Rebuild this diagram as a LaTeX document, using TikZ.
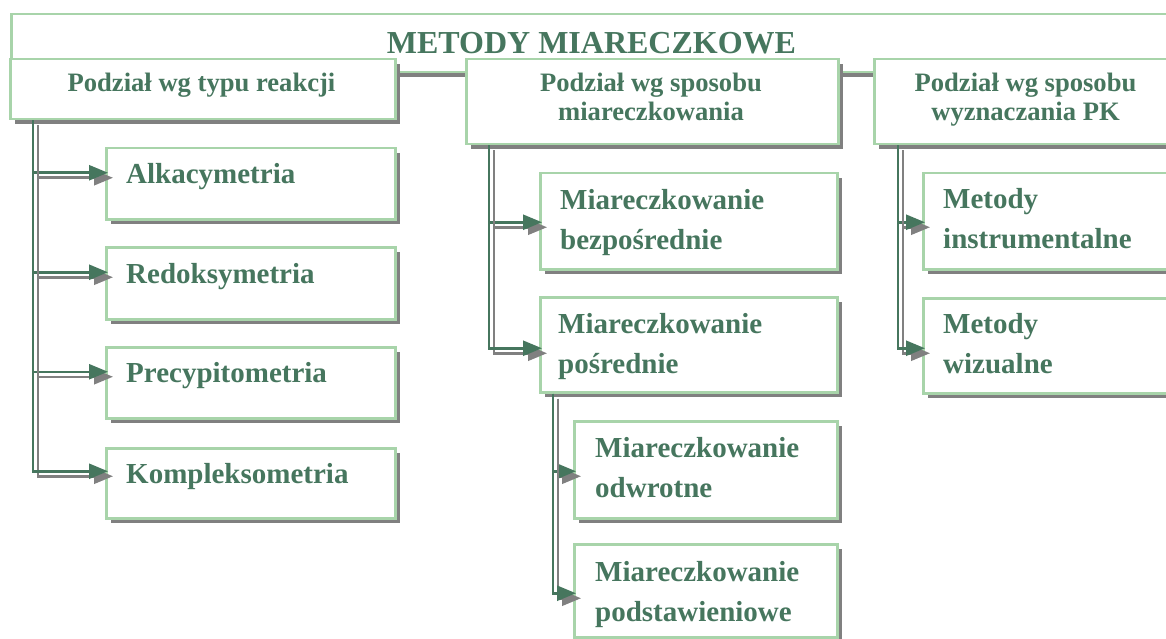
\documentclass[tikz,border=0pt]{standalone}
\usepackage{fontspec}
\setmainfont{Liberation Serif}
\usetikzlibrary{shadows,arrows.meta}
\definecolor{txtgreen}{RGB}{70,118,94}
\definecolor{bordgreen}{RGB}{168,212,170}
\definecolor{shgray}{RGB}{128,128,128}
\tikzset{
  box/.style={draw=bordgreen, line width=2.5pt, fill=white, rectangle, inner sep=0pt,
    anchor=north west,
    drop shadow={shadow xshift=5pt, shadow yshift=-5pt, fill=shgray, opacity=1}},
  titletext/.style={text=txtgreen, font=\fontsize{32}{34}\selectfont\bfseries, inner sep=0pt, anchor=base},
  headtext/.style={text=txtgreen, font=\fontsize{26.6}{28.5}\selectfont\bfseries, inner sep=0pt, anchor=base},
  childtext/.style={text=txtgreen, font=\fontsize{29}{40}\selectfont\bfseries, inner sep=0pt, anchor=base west},
  conn/.style={draw=txtgreen, line width=2.5pt, -{Triangle[length=19pt,width=15pt]}, shorten >=-3pt},
  connshadow/.style={draw=shgray, line width=2.5pt, -{Triangle[length=19pt,width=15pt]}, shorten >=-3pt},
}
\newcommand{\elbowconn}[4]{%
  \draw[connshadow] ([xshift=#2+5pt,yshift=-5pt]#1.south west) |- ([xshift=5pt,yshift=#4-5pt]#3.west);
  \draw[conn] ([xshift=#2]#1.south west) |- ([yshift=#4]#3.west);
}
\begin{document}
\begin{tikzpicture}[x=1pt,y=-1pt]
\useasboundingbox (0,0) rectangle (1166,639);
\clip (0,0) rectangle (1166,639);

% top box
\node[box, minimum width=1165pt, minimum height=58pt] (top) at (10,13) {};
\node[titletext] (title) at (591.5,54) {METODY MIARECZKOWE};

% header boxes
\node[box, minimum width=385pt, minimum height=60pt] (h1) at (9,58) {};
\node[box, minimum width=372pt, minimum height=85pt] (h2) at (465,58) {};
\node[box, minimum width=305pt, minimum height=85pt] (h3) at (873,58) {};
\node[headtext] (h1t) at (201.5,92) {Podział wg typu reakcji};
\node[headtext] (h2t) at (651,92) {\begin{tabular}[t]{@{}c@{}}Podział wg sposobu\\miareczkowania\end{tabular}};
\node[headtext] (h3t) at (1025.5,92) {\begin{tabular}[t]{@{}c@{}}Podział wg sposobu\\wyznaczania PK\end{tabular}};

% column 1 children
\node[box, minimum width=289pt, minimum height=71pt] (c1a) at (105,147) {};
\node[box, minimum width=289pt, minimum height=72pt] (c1b) at (105,246) {};
\node[box, minimum width=289pt, minimum height=71pt] (c1c) at (105,346) {};
\node[box, minimum width=289pt, minimum height=70pt] (c1d) at (105,447) {};
\node[childtext] (c1at) at (126,183) {Alkacymetria};
\node[childtext] (c1bt) at (126,283) {Redoksymetria};
\node[childtext] (c1ct) at (126,382) {Precypitometria};
\node[childtext] (c1dt) at (126,483) {Kompleksometria};

% column 2 children
\node[box, minimum width=297pt, minimum height=96pt] (c2a) at (539,172) {};
\node[box, minimum width=297pt, minimum height=95pt] (c2b) at (539,296) {};
\node[box, minimum width=263pt, minimum height=97pt] (c2c) at (573,420) {};
\node[box, minimum width=263pt, minimum height=93pt] (c2d) at (573,543) {};
\node[childtext] (c2at) at (560,209) {\begin{tabular}[t]{@{}l@{}}Miareczkowanie\\bezpośrednie\end{tabular}};
\node[childtext] (c2bt) at (558,333) {\begin{tabular}[t]{@{}l@{}}Miareczkowanie\\pośrednie\end{tabular}};
\node[childtext] (c2ct) at (595,457) {\begin{tabular}[t]{@{}l@{}}Miareczkowanie\\odwrotne\end{tabular}};
\node[childtext] (c2dt) at (595,581) {\begin{tabular}[t]{@{}l@{}}Miareczkowanie\\podstawieniowe\end{tabular}};

% column 3 children
\node[box, minimum width=256pt, minimum height=96pt] (c3a) at (922,172) {};
\node[box, minimum width=256pt, minimum height=95pt] (c3b) at (922,297) {};
\node[childtext] (c3at) at (943,208) {\begin{tabular}[t]{@{}l@{}}Metody\\instrumentalne\end{tabular}};
\node[childtext] (c3bt) at (943,333) {\begin{tabular}[t]{@{}l@{}}Metody\\wizualne\end{tabular}};

% connectors
\elbowconn{h1}{24pt}{c1a}{11pt}
\elbowconn{h1}{24pt}{c1b}{11pt}
\elbowconn{h1}{24pt}{c1c}{11pt}
\elbowconn{h1}{24pt}{c1d}{12pt}
\elbowconn{h2}{24pt}{c2a}{-1pt}
\elbowconn{h2}{24pt}{c2b}{-3.5pt}
\elbowconn{c2b}{14pt}{c2c}{-1.5pt}
\elbowconn{c2b}{14pt}{c2d}{-2.5pt}
\elbowconn{h3}{25pt}{c3a}{-1pt}
\elbowconn{h3}{25pt}{c3b}{-2.5pt}
\end{tikzpicture}
\end{document}
